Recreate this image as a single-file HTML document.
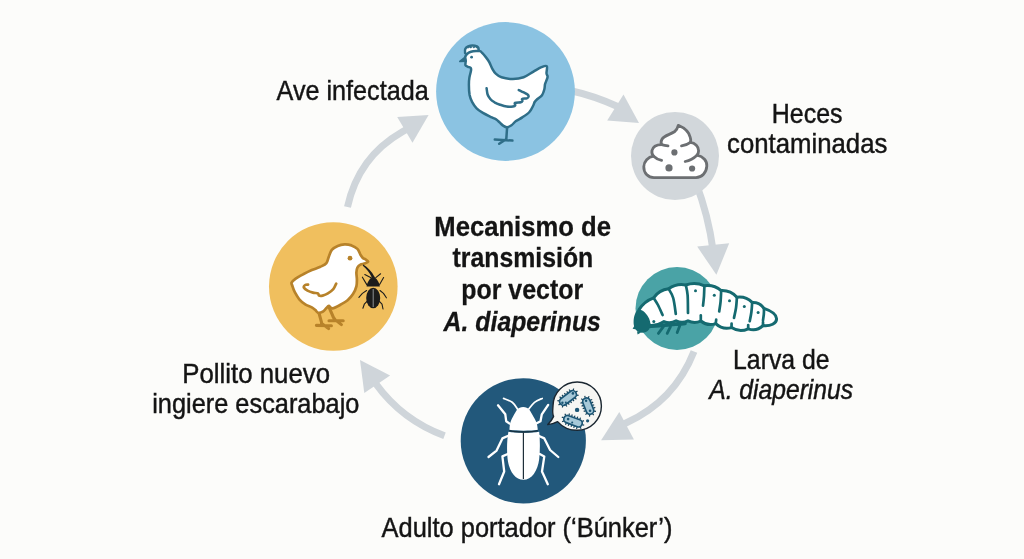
<!DOCTYPE html>
<html><head><meta charset="utf-8"><style>
html,body{margin:0;padding:0;background:#fcfcfa;overflow:hidden;}
svg{display:block;will-change:transform;}
text{font-family:"Liberation Sans",sans-serif;fill:#141414;}
</style></head><body>
<svg width="1024" height="559" viewBox="0 0 1024 559">
<rect width="1024" height="559" fill="#fcfcfa"/>
<g fill="none" stroke="#cfd5da" stroke-width="7">
<path d="M570.0 90.5 Q594.4 95.9 617.0 106.3L622.4 108.8"/>
<path d="M696.0 183.0 Q708.4 215.6 713.0 250.0L713.8 256"/>
<path d="M694.0 351.5 Q674.5 401.0 626.0 423.0L620.5 425.5"/>
<path d="M444.5 435.8 Q402.0 419.9 376.0 384.0L372.5 379.1"/>
<path d="M347.5 207.0 Q358.3 157.1 402.0 132.0L407.2 129"/>
</g>
<g fill="#cfd5da">
<polygon points="623.5,94.6 607.2,120.4 639,122.9"/>
<polygon points="697.2,246.6 729.2,243.2 716.4,274.8"/>
<polygon points="619.3,412.1 633.9,439.4 601.1,440.3"/>
<polygon points="360,360 390.1,375.4 364.3,392.9"/>
<polygon points="397.2,117.1 428.6,115.1 412.5,142.8"/>
</g>
<circle cx="505.5" cy="91.5" r="69.4" fill="#8bc3e2"/>
<circle cx="675" cy="156" r="44" fill="#d2d7db"/>
<circle cx="677" cy="308.5" r="41.5" fill="#4aa3a6"/>
<circle cx="523.3" cy="440.8" r="62.6" fill="#22587b"/>
<circle cx="333.3" cy="286.5" r="64.3" fill="#f0bf5e"/>
<g stroke="#2f6e88" stroke-width="2.5" stroke-linejoin="round" stroke-linecap="round">
<path d="M465.1 53C464.5 49.6 465.6 47.3 468 46.4C470.6 45.4 474.6 45.4 477 46.4C478.6 47.2 478.8 49.4 478.6 51.2" fill="#fff"/>
<path d="M467 47.3L467.9 48.7L469.4 47.5L470.9 48.5L472.4 47.1L473.9 48.4L475.4 47.1L476.8 48.5L477.6 47.1L472 46.7Z" fill="#2f6e88" stroke="none"/>
<path d="M480 51.2C481.1 51.6 481.4 52.2 482.4 53.2C483.4 54.2 484.8 55.9 486 57.4C487.2 58.9 488.4 60.5 489.4 62.4C490.4 64.3 491.2 66.8 492.2 68.6C493.2 70.4 493.9 72 495.5 73.4C497.1 74.9 498.6 76.4 501.5 77.3C504.4 78.2 509.2 79 512.9 79C516.6 79 520.2 78.5 523.6 77.3C527 76.1 530.5 73.3 533.5 71.6C536.5 69.9 539.3 68.1 541.5 67.2C543.7 66.3 546 65.2 546.8 66.2C547.6 67.2 546.4 71.4 546.5 73.2C546.6 75 547.7 75.4 547.6 76.8C547.5 78.2 546.4 80.2 546 81.5C545.6 82.8 545.3 83 545 84.3C544.7 85.6 544.8 87.7 544.3 89.5C543.8 91.3 543.1 93.7 542 95.3C540.9 96.9 538.7 97.9 537.5 99C536.3 100.1 535.5 100.6 534.8 101.8C534 103 533.9 104.3 533 106C532.1 107.7 531.2 110.1 529.4 112C527.6 113.9 524.5 115.9 522.3 117.4C520.1 118.9 517.8 119.7 516 121C514.2 122.3 513 124.2 511.5 125.2C510 126.2 508.4 127.1 507.1 127.2C505.8 127.3 504.7 126.7 503.5 125.9C502.3 125.2 501.1 123.8 499.9 122.7C498.7 121.6 497.6 120.4 496.3 119.5C495 118.6 494 118.5 491.8 117.4C489.6 116.3 485.4 114.4 482.9 112.9C480.4 111.4 478.4 110.2 476.6 108.4C474.8 106.6 473.4 104.4 472.2 102.2C471 100 470.2 97.9 469.6 95C469.1 92.1 468.9 87.6 468.9 84.7C468.9 81.8 469 79.9 469.4 77.6C469.8 75.2 470.8 72.2 471 70.6C471.2 69 471.3 68.6 470.8 68C470.3 67.4 468.9 67.2 468 66.8C467.1 66.3 465.9 66.2 465.5 65.3C465.1 64.4 465.7 62.9 465.6 61.5C465.6 60.1 465 58.5 465.2 57.2C465.4 56 466 54.9 467 54C468 53.1 469.5 52.3 471 51.8C472.5 51.3 474.5 51.1 476 51C477.5 50.9 478.9 50.8 480 51.2Z" fill="#fff"/>
<path d="M518.8 90.1C519.5 90.4 521.7 91.5 523.2 92.2C524.7 93 526.7 93.9 527.6 94.6C528.5 95.3 528.7 96 528.6 96.6C528.5 97.2 527.9 97.9 526.8 98.3C525.7 98.7 522.9 98.4 522.2 98.9C521.5 99.4 522.6 100.5 522.4 101.1C522.2 101.6 522 101.9 520.8 102.2C519.6 102.5 515.9 102.4 515 102.9C514.1 103.4 515.5 104.8 515.2 105.4C514.9 106 514.4 106.3 513 106.5C511.6 106.7 508.9 106.9 506.7 106.6C504.5 106.3 502 105.4 500 104.7C498 104 496.1 103.2 494.5 102.3C492.9 101.3 491.4 100.3 490.3 99C489.2 97.7 488.2 96.3 487.6 94.5C487 92.7 486.8 89.3 486.6 88.3" fill="none"/>
<path d="M465.2 57.2L459.8 61.5L466.2 61.2Z" fill="#2f6e88" stroke-width="1.6"/>
<path d="M507.1 127.5L506.3 139.2M494.8 139.6L512.4 140.6M505.4 139.8L499.2 143.8" fill="none"/>
</g>
<circle cx="471.6" cy="57.2" r="1.4" fill="#2f6e88"/>
<g stroke="#6c6f72" stroke-width="2.8" stroke-linecap="round" stroke-linejoin="round">
<path d="M678.3 125.3C683.5 127.5 689 131.5 690.3 137.5C691 139.5 690.8 141 690.4 142.4C695 143 698.8 146.5 698.6 150.8C698.6 152.6 698 154 697 155.2C703.5 156.5 707.2 161 706.8 166.2C706.4 172.6 702 177.6 696 177.6L654 177.6C648 177.6 643.6 173 643.8 166.6C644 161.4 648 157 653.6 156.2C652 154.6 651.6 152.6 652 150.6C652.8 147 656.4 144.6 661.6 144.6C660.8 143 661 141 662 139.2C664 135.6 670 134.6 674.4 131.8C676.8 130 677.8 127.8 678.3 125.3Z" fill="#fff"/>
<path d="M661.6 144.6C663.5 145.2 665.5 145.6 668 145.8M690.4 142.4C687.5 144.6 684.5 145.6 681.5 145.9M653.6 156.2C655.6 158.2 658.4 159.6 661.6 160.4M697 155.2C693.5 158.6 689.5 160.6 685.2 161.5" fill="none"/>
</g>
<g fill="#6c6f72"><circle cx="674.4" cy="152.4" r="3.1"/><circle cx="669" cy="167.9" r="3.6"/><circle cx="692.1" cy="168.5" r="3.1"/></g>
<g stroke="#156a70" stroke-linecap="round" stroke-linejoin="round" fill="none">
<path d="M639 309.6Q644.3 301.2 653.6 297.8Q659.1 290 668.6 288.8Q676.4 283.2 685.8 285Q695.3 281.6 704.4 285.8Q713.9 284.4 721.2 290.6Q730.6 290.2 736.9 297.2Q745.8 296 752.2 302.4Q759.8 302 764 308.4C771 310.8 776.6 314.6 776.6 318.8C776.6 323.4 770.6 326.4 763 325.6Q756.6 331.7 748.2 328.8Q739.5 332.8 731.5 327.6Q722.5 330.1 715.7 323.6Q707.5 326.4 700.8 321Q694.4 323.9 688 320.8Q682 323.8 676.1 320.8Q670.2 324.2 664 321.6Q657.7 325.8 650.2 325.4C646 323 641 316 639 309.6Z" fill="#fff" stroke-width="3"/>
<g stroke-width="2.7"><path d="M653.6 297.8C654.3 299 656.5 302.1 658 305C659.5 307.9 661.8 313.3 662.6 315"/><path d="M668.6 288.8C669.4 290.3 672 293.8 673.2 298C674.4 302.2 675.4 311.3 675.8 314"/><path d="M685.8 285C686.1 286.7 687.2 290.3 687.6 295C688 299.7 687.9 310 688 313"/><path d="M704.4 285.8C704.3 287.5 704.2 292.7 704 296C703.8 299.3 703.2 304 703 305.6"/><path d="M721.2 290.6C721.1 292.4 720.9 298 720.6 301.5C720.3 305 719.4 309.8 719.2 311.5"/><path d="M736.9 297.2C736.8 299 736.5 304.6 736 308C735.5 311.4 734.3 316.2 734 317.9"/><path d="M752.2 302.4C752.1 304 751.8 308.9 751.4 312C751 315.1 750 319.8 749.7 321.3"/><path d="M764 308.4C764 309.4 764 312.5 763.8 314.5C763.6 316.5 763.1 319.4 763 320.4"/>
<path d="M700.8 321 L700.8 315.4"/><path d="M715.7 323.6 L716.2 319.6"/><path d="M731.5 327.6 L731.6 323.6"/><path d="M748.2 328.8 L748.2 325"/><path d="M763 325.6 L763 322"/></g>
<path d="M649 326.4C656 326.2 664 325.2 671 324.6C676 324.2 681 324 685 323.4" stroke-width="3.6"/>
<path d="M663.6 326.4L658.4 333.4M670.4 326.8L667.2 333.4M679.8 325.8L677.2 332.6" stroke-width="2.8"/>
</g>
<path d="M638.4 309.2C642.8 309.6 647 313.6 649.2 318.8C650.8 322.8 651 326.6 649 329.4C646.6 332.6 641.6 333.6 638.2 331.8C635 330 633.4 326 633.6 321.6C633.8 316.4 635.2 311.6 638.4 309.2Z" fill="#156a70"/>
<path d="M634.6 325.6L632.6 328.8L636.6 329.6ZM637 331.2L637.6 334.4L641 332.6Z" fill="#156a70"/>
<g fill="#156a70"><circle cx="653.8" cy="321.6" r="1.5"/><circle cx="695.5" cy="290.7" r="1.5"/><circle cx="714.3" cy="295.3" r="1.5"/><circle cx="729.5" cy="300.7" r="1.5"/><circle cx="744.3" cy="306.6" r="1.5"/><circle cx="758.1" cy="312.5" r="1.5"/></g>
<g stroke="#fff" stroke-width="2.3" stroke-linecap="round" stroke-linejoin="round" fill="none">
<path d="M509.6 423.6 L506.2 421.2 L505.3 414.3 L498 405.3"/><path d="M536.2 423.6 L540.5 421.2 L541.8 414.3 L548.2 404.9"/><path d="M507.7 436 L502.4 438.4 L496.6 450.6 L488.5 457"/><path d="M539.1 436 L544.3 438.4 L550.1 450 L558.3 457"/><path d="M507.7 454 L502.4 456.4 L504.2 471.5 L499 484.3"/><path d="M539.7 454 L544.3 456.4 L542 471.5 L547.8 484.3"/>
</g>
<g stroke="#fff" stroke-width="1.7" stroke-linecap="round" fill="none">
<path d="M517.7 409.4C516.8 408.2 514.6 404.1 512.2 402.3C509.9 400.5 505 399 503.6 398.4"/><path d="M528.9 408.9C529.8 407.8 532.3 404.1 534.5 402.3C536.7 400.6 540.9 399 542.2 398.4"/>
</g>
<path d="M509.4 429.8C509.6 424 511 419.5 513.2 416.2C514.8 413.6 515.6 411.6 517 409.8C518.6 407.9 520.6 407.1 523.2 407.1C525.8 407.1 527.8 407.9 529.4 409.8C530.8 411.6 531.6 413.6 533.2 416.2C535.4 419.5 537.6 424 537.8 429.8C531 431 516 431 509.4 429.8Z" fill="#fff"/>
<path d="M508.4 431.8C515 433.2 532 433.2 539.2 431.8C540 440 540.2 450 539.2 459C537.8 471 531.6 479.8 523.4 479.8C515.2 479.8 509 471 507.6 459C506.6 450 507 440 508.4 431.8Z" fill="#fff"/>
<path d="M509.4 430.6C515 432.4 532 432.4 537.8 430.6" stroke="#16303f" stroke-width="1.4" fill="none"/>
<path d="M523.4 432.6L523.4 479" stroke="#1f2f3a" stroke-width="1.2"/>
<path d="M553.6 416.4C552 413.4 552.9 408.8 553 406.1C553 392.8 563.8 382 577.2 382C590.6 382 601.4 392.8 601.4 406.1C601.4 419.5 590.6 430.3 577.2 430.3C569 430.3 562 426.6 557.6 421.6C554.6 423.2 550.6 424.4 547.8 424.6C550.2 422.2 552.4 419.2 553.6 416.4Z" fill="#f6f6f3" stroke="#1a2630" stroke-width="1.4" stroke-linejoin="round"/>
<path d="M560.9 398.3 L559.7 396.7 M563.2 396.5 L562 394.9 M565.6 394.7 L564.4 393.1 M567.9 392.9 L566.7 391.3 M570.3 391.1 L569.1 389.5 M573.3 390.4 L573.6 388.5 M575.9 392.1 L577.5 390.9 M576.7 395.1 L578.6 395.4 M575.1 397.7 L576.3 399.3 M572.8 399.5 L574 401.1 M570.4 401.3 L571.6 402.9 M568.1 403.1 L569.3 404.7 M565.7 404.9 L566.9 406.5 M562.7 405.6 L562.4 407.5 M560.1 403.9 L558.5 405.1 M559.3 400.9 L557.4 400.6" stroke="#163f55" stroke-width="1.2" fill="none"/><rect x="558.4" y="394.2" width="19.2" height="7.6" rx="3.8" fill="#a7c9d8" stroke="#1b5574" stroke-width="1.7" transform="rotate(-37.3 568 398)"/><circle cx="572.9" cy="393.4" r="1.3" fill="#1b5574"/><circle cx="562.4" cy="402.8" r="1.2" fill="#1b5574"/><circle cx="565.8" cy="402.6" r="1.0" fill="#1b5574"/>
<path d="M590.3 400.2 L592.2 399.5 M591.3 402.9 L593.2 402.1 M592.4 405.5 L594.2 404.8 M593.4 408.2 L595.3 407.4 M594 411.1 L596 411.4 M592.5 413.7 L593.7 415.2 M589.6 414.6 L589.5 416.6 M586.9 413.3 L585.5 414.6 M585.6 410.7 L583.7 411.4 M584.5 408 L582.7 408.7 M583.5 405.4 L581.6 406.1 M582.5 402.7 L580.5 403.1 M582.9 399.7 L581.2 398.7 M585.3 397.8 L584.7 395.9 M588.2 398 L589.1 396.2" stroke="#163f55" stroke-width="1.2" fill="none"/><rect x="579.7" y="402.3" width="17" height="7.6" rx="3.8" fill="#a7c9d8" stroke="#1b5574" stroke-width="1.7" transform="rotate(68.5 588.2 406.1)"/><circle cx="586.1" cy="400.8" r="1.2" fill="#1b5574"/><circle cx="590.1" cy="410.8" r="1.3" fill="#1b5574"/>
<path d="M568.9 415.4 L569.5 413.5 M571.6 416.4 L572.3 414.5 M574.3 417.4 L575 415.6 M577.1 418.4 L577.8 416.6 M579.8 419.5 L580.5 417.6 M582.1 421.5 L583.9 420.6 M582.3 424.6 L584.2 425.3 M580.2 426.9 L581.1 428.7 M577.1 427 L576.5 428.9 M574.4 426 L573.7 427.9 M571.7 425 L571 426.8 M568.9 424 L568.2 425.8 M566.2 422.9 L565.5 424.8 M563.9 420.9 L562.1 421.8 M563.7 417.8 L561.8 417.1 M565.8 415.5 L564.9 413.7" stroke="#163f55" stroke-width="1.2" fill="none"/><rect x="563.4" y="417.5" width="19.2" height="7.4" rx="3.7" fill="#a7c9d8" stroke="#1b5574" stroke-width="1.7" transform="rotate(20.3 573 421.2)"/><circle cx="568.1" cy="419.1" r="1.3" fill="#1b5574"/><circle cx="572.2" cy="422.6" r="1.0" fill="#1b5574"/>
<circle cx="577.1" cy="409.9" r="2.2" fill="#1b5574"/>
<circle cx="587.6" cy="420.8" r="1.6" fill="#1b5574"/>
<g stroke="#b7822a" stroke-width="2.7" stroke-linecap="round" stroke-linejoin="round">
<path d="M319 313.2L321.6 322.6M316.4 325.4L331.4 325.8M321.6 323.6L328.6 328.6M328.8 306.6L333.4 317.4L335.2 320M329 320.8L343.2 320.8M336 320.4L341.4 324.6" fill="none" stroke-width="3.1"/>
<path d="M331.8 249.8C333.3 248 335.6 246.8 337.7 245.9C339.8 245 342.3 244.5 344.6 244.4C346.9 244.3 349.4 244.7 351.5 245.4C353.6 246.2 355.9 247.4 357.4 248.9C358.9 250.4 359.5 253.1 360.4 254.6C361.3 256.1 361.8 257 362.6 257.8C363.4 258.6 364.4 258.6 365.3 259.2C366.2 259.8 368.4 261 368.2 261.7C368 262.4 365.6 263.1 364.3 263.6C363 264.1 361.5 263.9 360.4 264.6C359.2 265.3 358.1 266.3 357.4 267.6C356.7 268.9 356.5 270.5 356.4 272.5C356.3 274.5 356.9 277.1 356.9 279.4C356.9 281.7 357 283.9 356.4 286.3C355.8 288.7 354.5 291.7 353 294C351.5 296.3 349.7 298.4 347.6 300.2C345.5 302 343 303.3 340.5 304.7C338 306.1 334.3 308.1 332.4 308.3C330.4 308.5 329.8 305.8 328.8 305.8C327.8 305.8 327.2 307.3 326.2 308.3C325.2 309.3 324 311.1 322.6 311.8C321.2 312.5 319.3 313 318.1 312.7C316.9 312.4 316.4 311 315.4 310.1C314.3 309.2 313.4 308.3 311.8 307.4C310.2 306.5 307.7 306 305.6 304.7C303.5 303.4 301.1 301.4 299.3 299.3C297.5 297.2 296 294.4 294.8 292.2C293.6 290 292.9 287.6 292.4 286C291.9 284.4 291.1 283.8 291.6 282.6C292.2 281.4 293.8 280 295.7 278.6C297.6 277.2 300.5 275.7 303.2 274.3C305.9 272.9 308.9 271.4 311.8 270.1C314.7 268.9 318 268 320.4 266.8C322.8 265.6 325 264.8 326.4 263.1C327.8 261.4 327.9 258.9 328.8 256.7C329.7 254.5 330.3 251.6 331.8 249.8Z" fill="#fff"/>
<path d="M308.1 284.6C307.6 284.7 305.9 284.5 305.2 285C304.5 285.5 303.5 286.7 303.9 287.6C304.3 288.5 306 289.8 307.5 290.6C309 291.4 311.1 292.1 312.9 292.6C314.6 293.1 317 292.9 318 293.4C319 293.9 318.2 295.2 319 295.6C319.8 296 321.1 296 322.6 295.6C324.1 295.2 326.1 294.5 327.9 293.4C329.7 292.3 331.9 290.8 333.3 289.2C334.7 287.6 335.7 284.5 336.2 283.6" fill="none"/>
</g>
<circle cx="350" cy="258.2" r="2.4" fill="#b7822a"/>
<g stroke="#1c1c1c" stroke-width="1.1" stroke-linecap="round" stroke-linejoin="round" fill="none">
<path d="M370.6 277.6L364.8 274.6M375.8 277.6L380.6 273.8M366.8 284.6L362.4 277.2M379.6 284.6L383.6 277.6M366.6 290.5L362.4 293.4L358.9 297.3M380 290.5L383.5 293.4L386.4 297.8M367 301.3L364.3 304.2L362.9 308.2M379.4 301.3L382 304.2L383 309"/>
</g>
<path d="M363.2 264.6C367.6 267.4 371.8 271.6 374.6 277L371.8 277.6C369.6 272.8 366.6 268.8 362.8 265.8Z" fill="#1c1c1c"/>
<path d="M373.2 276C376.2 278 379.6 282.4 379.8 286.6L366.6 286.6C366.8 282.4 370.2 278 373.2 276Z" fill="#1c1c1c"/>
<ellipse cx="373.2" cy="298" rx="7" ry="10.3" fill="#1c1c1c"/>
<path d="M373.2 289L373.2 307" stroke="#8d9296" stroke-width="1"/>
<g font-size="28" stroke="#141414" stroke-width="0.45">
<text x="276.6" y="99.9" textLength="152.1" lengthAdjust="spacingAndGlyphs">Ave infectada</text>
<text x="771.8" y="123.1" textLength="70.7" lengthAdjust="spacingAndGlyphs">Heces</text>
<text x="727.0" y="153" textLength="160.4" lengthAdjust="spacingAndGlyphs">contaminadas</text>
<text x="733.1" y="368.6" textLength="96.4" lengthAdjust="spacingAndGlyphs">Larva de</text>
<text x="709.2" y="398.9" font-style="italic" textLength="143.9" lengthAdjust="spacingAndGlyphs">A. diaperinus</text>
<text x="381.6" y="536.5" textLength="290.8" lengthAdjust="spacingAndGlyphs">Adulto portador (‘Búnker’)</text>
<text x="182.3" y="382.9" textLength="147.7" lengthAdjust="spacingAndGlyphs">Pollito nuevo</text>
<text x="152.2" y="413" textLength="207.2" lengthAdjust="spacingAndGlyphs">ingiere escarabajo</text>
</g>
<g font-size="28.5" font-weight="bold" stroke="#141414" stroke-width="0.3">
<text x="434.3" y="235.6" textLength="176.6" lengthAdjust="spacingAndGlyphs">Mecanismo de</text>
<text x="452.5" y="267.2" textLength="140.8" lengthAdjust="spacingAndGlyphs">transmisión</text>
<text x="461.3" y="299.3" textLength="121.8" lengthAdjust="spacingAndGlyphs">por vector</text>
<text x="443.6" y="330.9" font-style="italic" textLength="157.3" lengthAdjust="spacingAndGlyphs">A. diaperinus</text>
</g>
</svg>
</body></html>
